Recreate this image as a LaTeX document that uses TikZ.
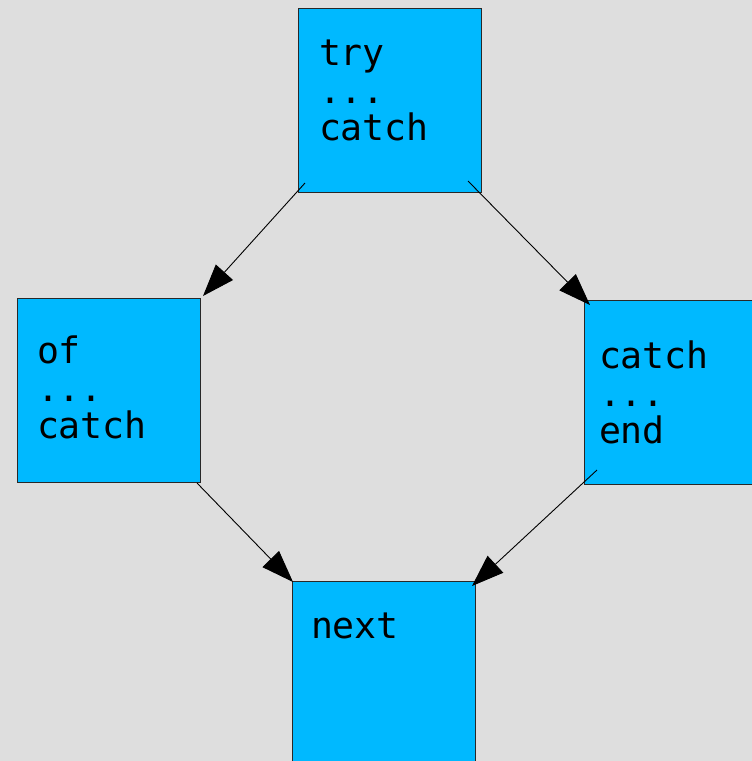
\documentclass[tikz,border=0pt]{standalone}
\usepackage{fontspec}
\newfontfamily\boxmono{DejaVu Sans Mono}
\usetikzlibrary{arrows.meta}
\definecolor{bggray}{RGB}{222,222,222}
\definecolor{boxblue}{RGB}{0,185,255}
\definecolor{edgegray}{RGB}{40,40,40}
\tikzset{
  box/.style={draw=edgegray, line width=1pt, fill=boxblue, anchor=north west,
    minimum width=183pt, minimum height=184pt, inner sep=0pt, outer sep=0pt},
  codeline/.style={anchor=base west, inner sep=0pt, outer sep=0pt,
    font=\boxmono\fontsize{36.5pt}{37.5pt}\selectfont, text=black},
  flow/.style={draw=black, line width=0.9pt, -{Triangle[length=32pt, width=23pt]}}
}
\begin{document}
\begin{tikzpicture}[x=1pt, y=-1pt]
  \fill[bggray] (0,0) rectangle (752,761);
  \useasboundingbox (0,0) rectangle (752,761);
  \clip (0,0) rectangle (752,761);

  % boxes
  \node[box] (try) at (298,8) {};
  \node[box] (of) at (17,298) {};
  \node[box, minimum width=200pt] (cend) at (584,300) {};
  \node[box, minimum height=200pt] (next) at (292,581) {};

  % texts
  \node[codeline] (t1) at (319,65) {try};
  \node[codeline] (t2) at (319,103) {...};
  \node[codeline] (t3) at (319,140) {catch};

  \node[codeline] (o1) at (37,363) {of};
  \node[codeline] (o2) at (37,401) {...};
  \node[codeline] (o3) at (37,438) {catch};

  \node[codeline] (c1) at (599,368) {catch};
  \node[codeline] (c2) at (599,406) {...};
  \node[codeline] (c3) at (599,443) {end};

  \node[codeline] (n1) at (311,638) {next};

  % connector end points
  \coordinate (a1s) at (305,183);
  \coordinate (a1e) at (203,296);
  \coordinate (a2s) at (468,181);
  \coordinate (a2e) at (590,305);
  \coordinate (a3s) at (197,483);
  \coordinate (a3e) at (293,582);
  \coordinate (a4s) at (597,470);
  \coordinate (a4e) at (472,586);

  \draw[flow] (a1s) -- (a1e);
  \draw[flow] (a2s) -- (a2e);
  \draw[flow] (a3s) -- (a3e);
  \draw[flow] (a4s) -- (a4e);
\end{tikzpicture}
\end{document}
